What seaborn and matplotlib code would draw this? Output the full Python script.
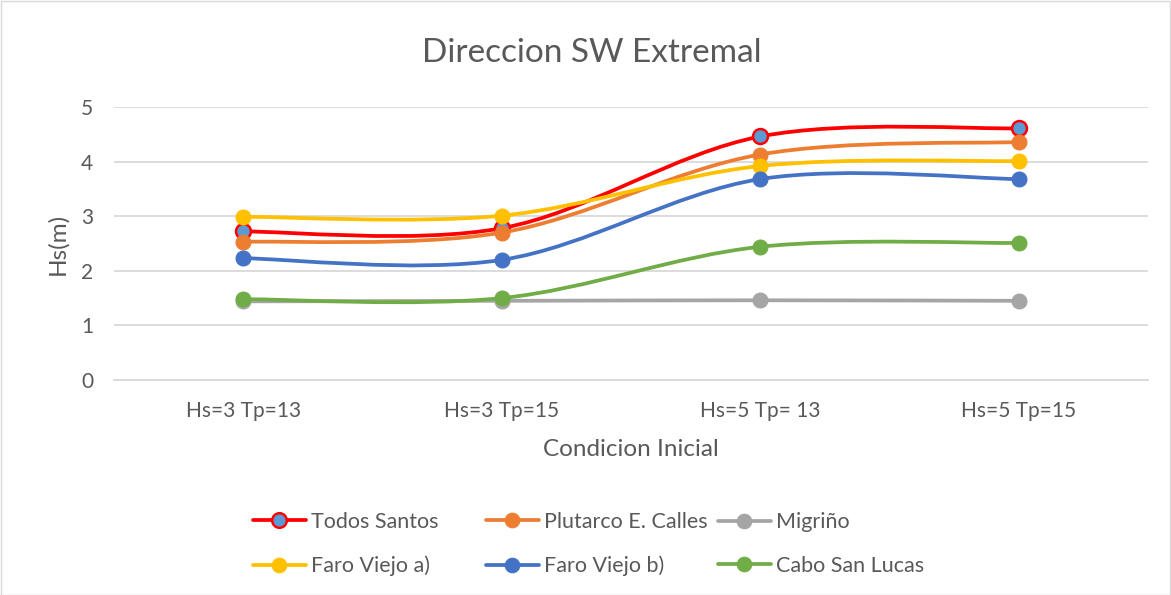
import numpy as np
import pandas as pd
import seaborn as sns
import matplotlib
matplotlib.use("Agg")
import matplotlib.pyplot as plt
from matplotlib.path import Path
from matplotlib.patches import PathPatch, Rectangle
from matplotlib.lines import Line2D

# --- data -------------------------------------------------------------------
conditions = ["Hs=3 Tp=13", "Hs=3 Tp=15", "Hs=5 Tp= 13", "Hs=5 Tp=15"]
todos_santos = [2.72, 2.78, 4.46, 4.61]
plutarco = [2.53, 2.70, 4.13, 4.36]
migrino = [1.44, 1.45, 1.46, 1.45]
faro_a = [2.99, 3.01, 3.92, 4.01]
faro_b = [2.23, 2.20, 3.68, 3.68]
cabo = [1.48, 1.50, 2.44, 2.51]

series_names = ["Todos Santos", "Plutarco E. Calles", "Migriño",
                "Faro Viejo a)", "Faro Viejo b)", "Cabo San Lucas"]
series_values = [todos_santos, plutarco, migrino, faro_a, faro_b, cabo]
line_colors = ["#FF0000", "#ED7D31", "#A5A5A5", "#FFC000", "#4472C4", "#70AD47"]
face_colors = ["#5B9BD5", "#ED7D31", "#A5A5A5", "#FFC000", "#4472C4", "#70AD47"]

rows = []
for name, vals in zip(series_names, series_values):
    for i, (c, v) in enumerate(zip(conditions, vals)):
        rows.append({"serie": name, "pos": i, "cond": c, "hs": v})
df = pd.DataFrame(rows)

sns.set_theme(style="white")
plt.rcParams["font.family"] = ["Lato", "DejaVu Sans"]

TXT = "#595959"
GRID = "#D9D9D9"
W, H = 1171, 595

fig = plt.figure(figsize=(W / 100, H / 100), dpi=100)
ax = fig.add_axes([114 / W, 1 - 380 / H, (1148 - 114) / W, (380 - 107) / H])

# outer chart border
fig.patches.append(Rectangle((0.5 / W, 0.5 / H), 1 - 1.5 / W, 1 - 1.5 / H,
                             transform=fig.transFigure, fill=False,
                             edgecolor="#D9D9D9", linewidth=1.0, zorder=0))


def smooth_path(xs, ys):
    """Bezier path through the points, in the style of spreadsheet smoothed lines."""
    pts = np.column_stack([xs, ys]).astype(float)
    n = len(pts)
    verts = [pts[0]]
    codes = [Path.MOVETO]
    for i in range(n - 1):
        p_prev = pts[i - 1] if i > 0 else pts[i]
        p_next2 = pts[i + 2] if i + 2 < n else pts[i + 1]
        c1 = pts[i] + (pts[i + 1] - p_prev) / 6.0
        c2 = pts[i + 1] - (p_next2 - pts[i]) / 6.0
        verts += [c1, c2, pts[i + 1]]
        codes += [Path.CURVE4] * 3
    return Path(verts, codes)


for k, (name, lc, fc) in enumerate(zip(series_names, line_colors, face_colors)):
    sub = df[df["serie"] == name]
    patch = PathPatch(smooth_path(sub["pos"].values, sub["hs"].values),
                      facecolor="none", edgecolor=lc, linewidth=2.7,
                      capstyle="round", joinstyle="round", zorder=3 + 2 * k)
    ax.add_patch(patch)
    sns.scatterplot(data=sub, x="pos", y="hs", ax=ax, s=115, color=fc,
                    edgecolor=lc, linewidth=1.8 if k == 0 else 0.8,
                    zorder=4 + 2 * k, legend=False)

ax.set_xlim(-0.5, 3.5)
ax.set_ylim(0, 5)
ax.set_xticks(range(len(conditions)))
ax.set_xticklabels(conditions)
ax.set_yticks(range(0, 6))
ax.yaxis.grid(True, color=GRID, linewidth=1.3)
ax.xaxis.grid(False)
for side in ["top", "right", "left"]:
    ax.spines[side].set_visible(False)
ax.spines["bottom"].set_color(GRID)
ax.spines["bottom"].set_linewidth(1.3)
ax.tick_params(axis="both", length=0, colors=TXT, labelsize=15)
ax.tick_params(axis="x", pad=15)
ax.tick_params(axis="y", pad=15)
ax.set_xlabel("Condicion Inicial", fontsize=17.5, color=TXT, labelpad=13)
ax.set_ylabel("Hs(m)", fontsize=17.5, color=TXT, labelpad=9)
ax.set_facecolor("none")

fig.text(592 / W, 1 - 53 / H, "Direccion SW Extremal", ha="center", va="center",
         fontsize=24, color=TXT)

# legend: three equal-width columns, two rows, filled row by row
col_left = [253, 486, 718]
n_cols = 3
for c in range(n_cols):
    idx = [c, c + n_cols]
    handles = [Line2D([0], [0], color=line_colors[k], linewidth=2.7, marker="o",
                      markersize=10.5, markerfacecolor=face_colors[k],
                      markeredgecolor=line_colors[k],
                      markeredgewidth=1.8 if k == 0 else 0.8)
               for k in idx]
    leg = fig.legend(handles, [series_names[k] for k in idx], loc="center left",
                     bbox_to_anchor=(col_left[c] / W, 1 - 544 / H), frameon=False,
                     fontsize=15.5, handlelength=2.45, borderpad=0,
                     borderaxespad=0, labelspacing=1.1, handletextpad=0.25)
    for t in leg.get_texts():
        t.set_color(TXT)

fig.savefig("out.png", dpi=100)
